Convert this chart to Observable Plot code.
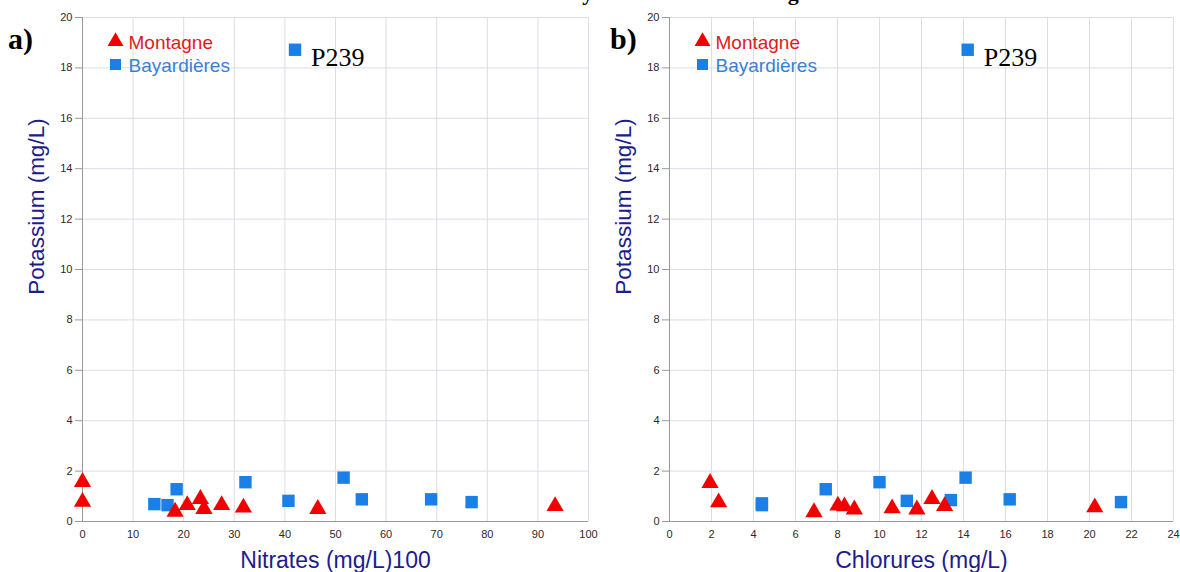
<!DOCTYPE html>
<html><head><meta charset="utf-8">
<script src="https://cdn.jsdelivr.net/npm/d3@7"></script>
<script src="https://cdn.jsdelivr.net/npm/@observablehq/plot@0.6"></script>
<style>
body{margin:0;background:#fff;}
#wrap{position:relative;width:1180px;height:572px;overflow:hidden;background:#fff;}
#title{position:absolute;top:-18px;left:0;width:1292px;text-align:center;font:bold 22px "Liberation Serif","Times New Roman",serif;line-height:22px;color:#000;white-space:nowrap;}
.panel{position:absolute;top:0;}
.tag{position:absolute;font:bold 30px "Liberation Serif","Times New Roman",serif;line-height:30px;color:#000;}
</style></head><body>
<div id="wrap">
<div id="title">Sites des Bayardières et de Montagne</div>
<div id="pa" class="panel" style="left:0"></div>
<div id="pb" class="panel" style="left:590px"></div>
<div class="tag" style="left:8px;top:24px">a)</div>
<div class="tag" style="left:610px;top:24px">b)</div>
</div>
<script>
// Panel a) : Nitrates vs Potassium
const nitMontX = [0, 0, 18.3, 20.7, 23.3, 24.0, 27.5, 31.8, 46.5, 93.4];
const nitMontK = [1.57, 0.78, 0.39, 0.65, 0.89, 0.50, 0.65, 0.55, 0.50, 0.61];
const nitBayX  = [14.2, 16.8, 18.6, 32.2, 40.7, 51.6, 55.2, 68.9, 76.9, 42.0];
const nitBayK  = [0.69, 0.65, 1.28, 1.56, 0.82, 1.74, 0.88, 0.88, 0.77, 18.72];
const nitBayName = ["", "", "", "", "", "", "", "", "", "P239"];

// Panel b) : Chlorures vs Potassium
const chlMontX = [1.93, 2.34, 6.88, 8.02, 8.33, 8.80, 10.6, 11.78, 12.5, 13.1, 20.25];
const chlMontK = [1.53, 0.76, 0.37, 0.63, 0.60, 0.48, 0.52, 0.48, 0.89, 0.61, 0.56];
const chlBayX  = [4.4, 4.4, 7.44, 10.0, 11.3, 13.4, 14.1, 16.2, 21.5, 14.2];
const chlBayK  = [0.72, 0.65, 1.28, 1.56, 0.82, 0.85, 1.74, 0.88, 0.77, 18.72];
const chlBayName = ["", "", "", "", "", "", "", "", "", "P239"];

const yTicks = [0, 2, 4, 6, 8, 10, 12, 14, 16, 18, 20];
const xTicksA = [0, 10, 20, 30, 40, 50, 60, 70, 80, 90, 100];
const xTicksB = [0, 2, 4, 6, 8, 10, 12, 14, 16, 18, 20, 22, 24];
const seriesNames = ["Montagne", "Bayardières"];
const yLabel = "Potassium (mg/L)";
const xLabelA = "Nitrates (mg/L)100";
const xLabelB = "Chlorures (mg/L)";

const RED = "#f20000", BLUE = "#1a80e8";
const RED_T = "#e01b1b", BLUE_T = "#3a80d2", NAVY = "#201c8c";

function panel({width, marginLeft, marginRight, xTicks, montX, montK, bayX, bayK, bayName, xLabel}) {
  const mont = montX.map((x, i) => ({x, k: montK[i]}));
  const bay = bayX.map((x, i) => ({x, k: bayK[i], name: bayName[i]}));
  return Plot.plot({
    width, height: 572,
    marginTop: 17, marginBottom: 51, marginLeft, marginRight,
    style: {fontFamily: "Liberation Sans, Arial, sans-serif", fontSize: "11px", color: "#333", background: "transparent", overflow: "visible"},
    x: {domain: [xTicks[0], xTicks[xTicks.length - 1]]},
    y: {domain: [0, 20]},
    marks: [
      Plot.gridX(xTicks, {stroke: "#dcdde6", strokeOpacity: 1}),
      Plot.gridY(yTicks, {stroke: "#dcdde6", strokeOpacity: 1}),
      Plot.axisY(yTicks, {tickSize: 7, tickPadding: 3, stroke: "#999", fill: "#2a2a2a", label: null}),
      Plot.axisX(xTicks, {tickSize: 0, tickPadding: 9, fill: "#2a2a2a", label: null}),
      Plot.ruleX([xTicks[0]], {stroke: "#999"}),
      Plot.ruleY([0], {stroke: "#999"}),
      Plot.dot(bay, {x: "x", y: "k", symbol: "square", r: 7, fill: BLUE}),
      Plot.dot(mont, {x: "x", y: "k", symbol: "triangle", r: 6.4, fill: RED}),
      Plot.text(bay.filter(d => d.name), {x: "x", y: "k", text: "name", textAnchor: "start", lineAnchor: "middle", dx: 16, dy: 8,
        fontFamily: "Liberation Serif, Times New Roman, serif", fontSize: 26, fill: "#000"}),
      // legend
      Plot.dot([seriesNames[0]], {frameAnchor: "top-left", dx: 33, dy: 24, symbol: "triangle", r: 5.9, fill: RED}),
      Plot.dot([seriesNames[1]], {frameAnchor: "top-left", dx: 33, dy: 47, symbol: "square", r: 6.2, fill: BLUE}),
      Plot.text([seriesNames[0]], {frameAnchor: "top-left", dx: 46, dy: 25, text: d => d, textAnchor: "start", lineAnchor: "middle", fontSize: 19, fill: RED_T}),
      Plot.text([seriesNames[1]], {frameAnchor: "top-left", dx: 46, dy: 48, text: d => d, textAnchor: "start", lineAnchor: "middle", fontSize: 19, fill: BLUE_T}),
      // axis titles
      Plot.text([xLabel], {frameAnchor: "bottom", dy: 39, text: d => d, textAnchor: "middle", lineAnchor: "middle", fontSize: 23, fill: NAVY}),
      Plot.text([yLabel], {frameAnchor: "left", dx: -46, dy: -63, rotate: -90, text: d => d, textAnchor: "middle", lineAnchor: "middle", fontSize: 22.5, fill: NAVY})
    ]
  });
}

document.getElementById("pa").append(panel({
  width: 600, marginLeft: 82, marginRight: 12, xTicks: xTicksA,
  montX: nitMontX, montK: nitMontK, bayX: nitBayX, bayK: nitBayK, bayName: nitBayName, xLabel: xLabelA
}));
document.getElementById("pb").append(panel({
  width: 590, marginLeft: 79, marginRight: 7, xTicks: xTicksB,
  montX: chlMontX, montK: chlMontK, bayX: chlBayX, bayK: chlBayK, bayName: chlBayName, xLabel: xLabelB
}));
</script>
</body></html>
